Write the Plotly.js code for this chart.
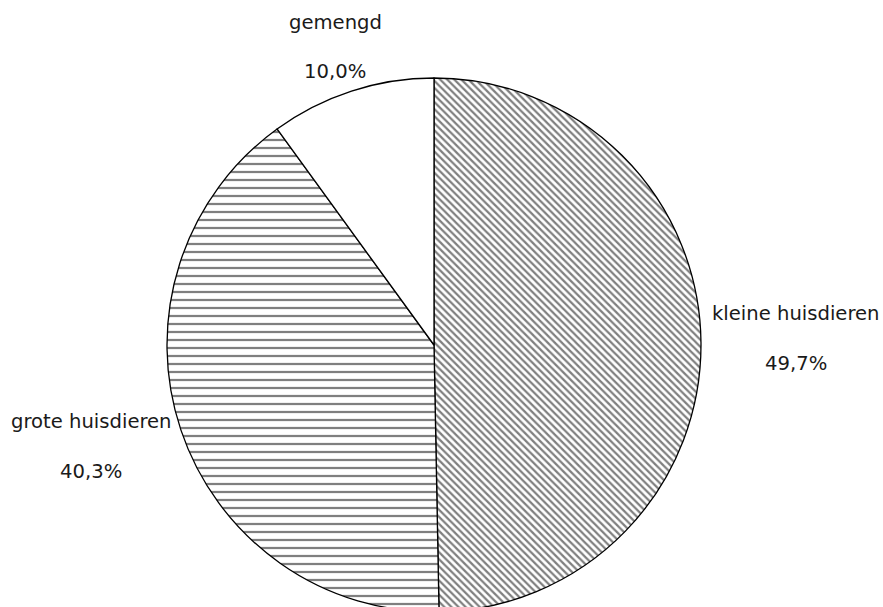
<!DOCTYPE html>
<html>
<head>
<meta charset="utf-8">
<script src="https://cdn.plot.ly/plotly-3.0.1.min.js"></script>
<style>
  html, body { margin: 0; padding: 0; overflow: hidden; background: #fff; }
  #chart { width: 883px; height: 620px; }
</style>
</head>
<body>
<div id="chart"></div>
<script>
// Data
const categories = ["kleine huisdieren", "grote huisdieren", "gemengd"];
const shares = [49.7, 40.3, 10.0];
const patterns = ["\\", "-", ""];

const W = 883, H = 620;
const fmt = v => v.toFixed(1).replace('.', ',') + '%';

// label positions in pixels (layout only)
const labelPos = [
  {x: 796, y: 313, py: 363},
  {x: 91,  y: 421, py: 472},
  {x: 335, y: 22,  py: 72}
];

const annotations = [];
categories.forEach((c, i) => {
  const p = labelPos[i];
  annotations.push({
    text: c, xref: 'paper', yref: 'paper',
    x: p.x / W, y: 1 - p.y / H, xanchor: 'center', yanchor: 'middle',
    showarrow: false, font: {family: 'DejaVu Sans, Verdana, sans-serif', size: 19.6, color: '#1a1a1a'}
  });
  annotations.push({
    text: fmt(shares[i]), xref: 'paper', yref: 'paper',
    x: p.x / W, y: 1 - p.py / H, xanchor: 'center', yanchor: 'middle',
    showarrow: false, font: {family: 'DejaVu Sans, Verdana, sans-serif', size: 19.6, color: '#1a1a1a'}
  });
});

const trace = {
  type: 'pie',
  labels: categories,
  values: shares,
  sort: false,
  direction: 'clockwise',
  rotation: 0,
  textinfo: 'none',
  hoverinfo: 'skip',
  showlegend: false,
  domain: {x: [167 / W, 701 / W], y: [1 - 612 / H, 1 - 78 / H]},
  marker: {
    colors: ['white', 'white', 'white'],
    line: {color: 'black', width: 1.3},
    pattern: {
      shape: patterns,
      size: [5, 8, 8],
      solidity: [0.45, 0.28, 0.2],
      fgcolor: 'black',
      bgcolor: 'white',
      fillmode: 'overlay'
    }
  }
};

const layout = {
  width: W, height: H,
  margin: {l: 0, r: 0, t: 0, b: 0},
  paper_bgcolor: 'white',
  plot_bgcolor: 'white',
  showlegend: false,
  annotations: annotations
};

Plotly.newPlot('chart', [trace], layout, {displayModeBar: false, staticPlot: true});
</script>
</body>
</html>
